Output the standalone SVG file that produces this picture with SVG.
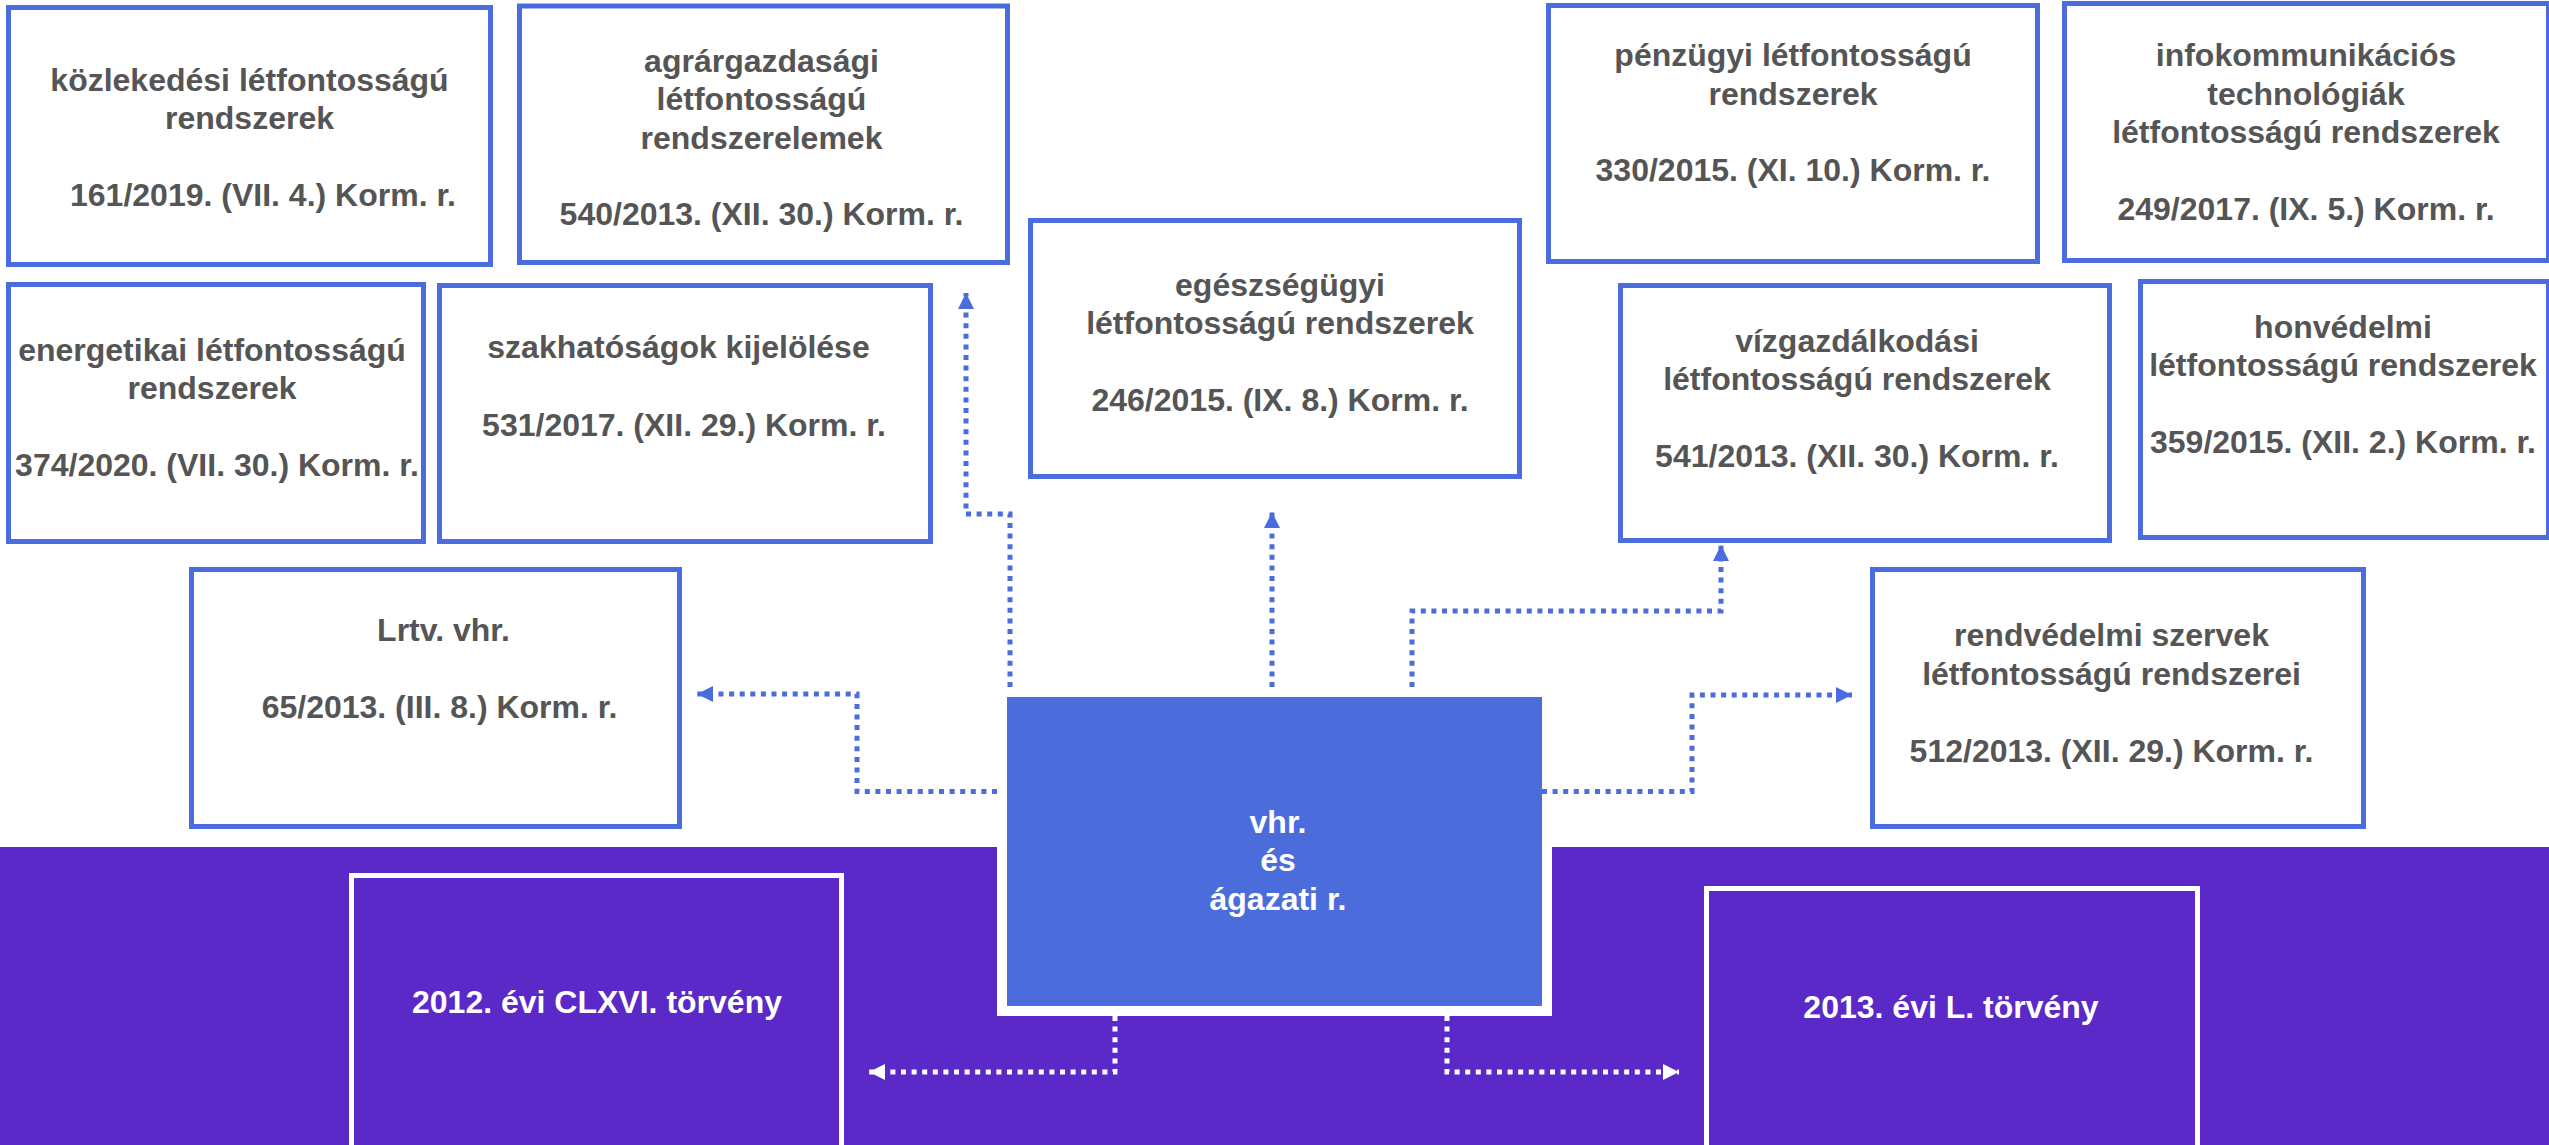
<svg xmlns="http://www.w3.org/2000/svg" width="2549" height="1145" viewBox="0 0 2549 1145">
<style>
.box{fill:#ffffff;stroke:#4a6cdc;stroke-width:5}
.wbox{fill:#5b29c7;stroke:#ffffff;stroke-width:5}
.t{font-family:"Liberation Sans",Arial,sans-serif;font-weight:bold;font-size:32px;fill:#555555;text-anchor:middle}
.tw{font-family:"Liberation Sans",Arial,sans-serif;font-weight:bold;font-size:32px;fill:#ffffff;text-anchor:middle}
.cb{fill:none;stroke:#4a6cdc;stroke-width:5;stroke-dasharray:5 5.6}
.cw{fill:none;stroke:#ffffff;stroke-width:5;stroke-dasharray:5 5.6}
</style>
<defs>
<marker id="ab" markerUnits="userSpaceOnUse" markerWidth="17" markerHeight="17" refX="16" refY="8" orient="auto"><path d="M0,0 L16,8 L0,16 z" fill="#4a6cdc"/></marker>
<marker id="aw" markerUnits="userSpaceOnUse" markerWidth="17" markerHeight="17" refX="16" refY="8" orient="auto"><path d="M0,0 L16,8 L0,16 z" fill="#ffffff"/></marker>
</defs>
<rect x="0" y="0" width="2549" height="1145" fill="#ffffff"/>
<rect x="0" y="847" width="2549" height="298" fill="#5b29c7"/>

<g id="kozlekedesi">
<rect class="box" x="8.5" y="7.5" width="482" height="257"/>
<text class="t" x="249.5" y="91">közlekedési létfontosságú</text>
<text class="t" x="249.5" y="129">rendszerek</text>
<text class="t" x="263" y="206">161/2019. (VII. 4.) Korm. r.</text>
</g>
<g id="agrar">
<rect class="box" x="519.5" y="6" width="488" height="256.5"/>
<text class="t" x="761.5" y="71.5">agrárgazdasági</text>
<text class="t" x="761.5" y="110">létfontosságú</text>
<text class="t" x="761.5" y="148.5">rendszerelemek</text>
<text class="t" x="761.5" y="225">540/2013. (XII. 30.) Korm. r.</text>
</g>
<g id="energetikai">
<rect class="box" x="8.5" y="284.5" width="415" height="257"/>
<text class="t" x="212" y="361">energetikai létfontosságú</text>
<text class="t" x="212" y="399">rendszerek</text>
<text class="t" x="217" y="476">374/2020. (VII. 30.) Korm. r.</text>
</g>
<g id="szakhatosagok">
<rect class="box" x="439.5" y="285.5" width="491" height="256"/>
<text class="t" x="678.5" y="358">szakhatóságok kijelölése</text>
<text class="t" x="684" y="436">531/2017. (XII. 29.) Korm. r.</text>
</g>
<g id="egeszsegugyi">
<rect class="box" x="1030.5" y="220.5" width="489" height="256"/>
<text class="t" x="1280" y="296">egészségügyi</text>
<text class="t" x="1280" y="334">létfontosságú rendszerek</text>
<text class="t" x="1280" y="411">246/2015. (IX. 8.) Korm. r.</text>
</g>
<g id="penzugyi">
<rect class="box" x="1548.5" y="5.5" width="489" height="256"/>
<text class="t" x="1793" y="66">pénzügyi létfontosságú</text>
<text class="t" x="1793" y="104.5">rendszerek</text>
<text class="t" x="1793" y="181">330/2015. (XI. 10.) Korm. r.</text>
</g>
<g id="infokommunikacios">
<rect class="box" x="2064.5" y="3.5" width="484" height="257"/>
<text class="t" x="2306" y="66">infokommunikációs</text>
<text class="t" x="2306" y="104.5">technológiák</text>
<text class="t" x="2306" y="143">létfontosságú rendszerek</text>
<text class="t" x="2306" y="219.5">249/2017. (IX. 5.) Korm. r.</text>
</g>
<g id="vizgazdalkodasi">
<rect class="box" x="1620.5" y="285.5" width="489" height="255"/>
<text class="t" x="1857" y="352">vízgazdálkodási</text>
<text class="t" x="1857" y="390">létfontosságú rendszerek</text>
<text class="t" x="1857" y="467">541/2013. (XII. 30.) Korm. r.</text>
</g>
<g id="honvedelmi">
<rect class="box" x="2140.5" y="281.5" width="408" height="256"/>
<text class="t" x="2343" y="337.5">honvédelmi</text>
<text class="t" x="2343" y="376">létfontosságú rendszerek</text>
<text class="t" x="2343" y="453">359/2015. (XII. 2.) Korm. r.</text>
</g>
<g id="lrtv">
<rect class="box" x="191.5" y="569.5" width="488" height="257"/>
<text class="t" x="443.5" y="641">Lrtv. vhr.</text>
<text class="t" x="439.5" y="718">65/2013. (III. 8.) Korm. r.</text>
</g>
<g id="rendvedelmi">
<rect class="box" x="1872.5" y="569.5" width="491" height="257"/>
<text class="t" x="2111.5" y="646">rendvédelmi szervek</text>
<text class="t" x="2111.5" y="684.5">létfontosságú rendszerei</text>
<text class="t" x="2111.5" y="761.5">512/2013. (XII. 29.) Korm. r.</text>
</g>
<g id="t2012">
<rect class="wbox" x="351.5" y="875.5" width="490" height="280"/>
<text class="tw" x="597" y="1012.5">2012. évi CLXVI. törvény</text>
</g>
<g id="t2013">
<rect class="wbox" x="1706.5" y="888.5" width="491" height="270"/>
<text class="tw" x="1951" y="1018">2013. évi L. törvény</text>
</g>
<g id="center">
<rect x="997" y="847" width="555" height="169" fill="#ffffff"/>
<rect x="1007" y="697" width="535" height="309" fill="#4a6ddb"/>
<text class="tw" x="1278" y="833">vhr.</text>
<text class="tw" x="1278" y="871">és</text>
<text class="tw" x="1278" y="909.5">ágazati r.</text>
</g>

<g id="connectors">
<path class="cb" d="M1010,687 V514 H966 V293" marker-end="url(#ab)"/>
<path class="cb" d="M1272,687 V512" marker-end="url(#ab)"/>
<path class="cb" d="M1412,687 V611 H1721 V545" marker-end="url(#ab)"/>
<path class="cb" d="M997,791.5 H857 V694 H697" marker-end="url(#ab)"/>
<path class="cb" d="M1542,791.5 H1692 V695 H1852" marker-end="url(#ab)"/>
<path class="cw" d="M1115,1016 V1072 H869" marker-end="url(#aw)"/>
<path class="cw" d="M1447,1016 V1072 H1679" marker-end="url(#aw)"/>
</g>
</svg>
